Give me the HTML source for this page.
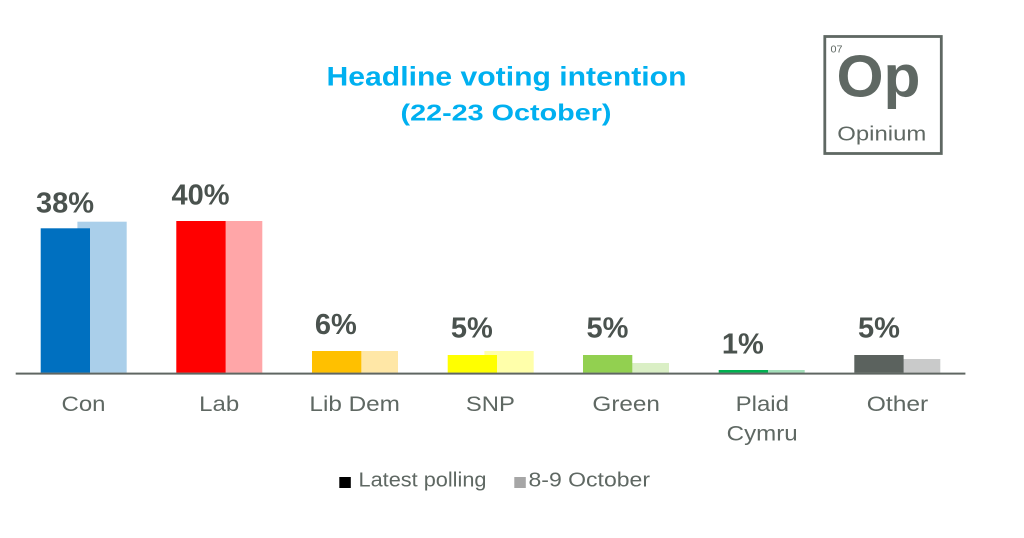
<!DOCTYPE html>
<html><head><meta charset="utf-8"><style>
html,body{margin:0;padding:0;background:#fff;}
svg{display:block;}
</style></head><body>
<svg width="1024" height="538" viewBox="0 0 1024 538" xmlns="http://www.w3.org/2000/svg">
<rect width="1024" height="538" fill="#fff"/>
<!-- title -->
<g font-family="'Liberation Sans', sans-serif" font-weight="bold" fill="#00B0F0" text-anchor="middle">
<text x="506.5" y="85.5" font-size="26.5" textLength="360" lengthAdjust="spacingAndGlyphs">Headline voting intention</text>
<text x="506" y="120.5" font-size="23.5" textLength="211" lengthAdjust="spacingAndGlyphs">(22-23 October)</text>
</g>
<!-- logo -->
<rect x="824.8" y="36.5" width="116.5" height="117" fill="none" stroke="#5f6863" stroke-width="2.8"/>
<text x="830.5" y="52.3" font-family="'Liberation Sans', sans-serif" font-size="10" fill="#5f6863" textLength="12" lengthAdjust="spacingAndGlyphs">07</text>
<text x="836.5" y="96.7" font-family="'Liberation Sans', sans-serif" font-weight="bold" font-size="59" fill="#5f6863" textLength="84" lengthAdjust="spacingAndGlyphs">Op</text>
<text x="837.3" y="140.7" font-family="'Liberation Sans', sans-serif" font-size="20" fill="#5f6863" textLength="89" lengthAdjust="spacingAndGlyphs">Opinium</text>
<!-- bars: light (behind) then dark -->
<g>
<rect x="77.4" y="221.7" width="49.3" height="151" fill="#AACFEA"/>
<rect x="40.7" y="228.3" width="49.3" height="144.4" fill="#0070C0"/>
<rect x="213" y="221" width="49.3" height="151.7" fill="#FFA6A8"/>
<rect x="176.3" y="221" width="49.3" height="151.7" fill="#FF0000"/>
<rect x="348.7" y="351" width="49.3" height="21.7" fill="#FFE7A6"/>
<rect x="312" y="351" width="49.3" height="21.7" fill="#FFC000"/>
<rect x="484.4" y="351" width="49.3" height="21.7" fill="#FFFFAA"/>
<rect x="447.7" y="355" width="49.3" height="17.7" fill="#FFFF00"/>
<rect x="619.7" y="363" width="49.3" height="9.7" fill="#DAEFC5"/>
<rect x="583" y="355" width="49.3" height="17.7" fill="#92D050"/>
<rect x="755.4" y="370" width="49.3" height="2.7" fill="#A3DFBA"/>
<rect x="718.7" y="370" width="49.3" height="2.7" fill="#00B050"/>
<rect x="891" y="359" width="49.3" height="13.7" fill="#C9CACA"/>
<rect x="854.3" y="355" width="49.3" height="17.7" fill="#5B625E"/>
</g>
<!-- axis -->
<rect x="15.7" y="372.6" width="949.7" height="2" fill="#5f6662"/>
<!-- value labels -->
<g font-family="'Liberation Sans', sans-serif" font-weight="bold" font-size="29" fill="#4a524e" text-anchor="middle">
<text x="65" y="212.7">38%</text>
<text x="200.5" y="204.3">40%</text>
<text x="335.8" y="334">6%</text>
<text x="471.8" y="337.3">5%</text>
<text x="607.5" y="337.3">5%</text>
<text x="742.8" y="353.3">1%</text>
<text x="879" y="337.3">5%</text>
</g>
<!-- category labels -->
<g font-family="'Liberation Sans', sans-serif" font-size="21.5" fill="#5f6863" text-anchor="middle">
<text x="83.5" y="411" textLength="44" lengthAdjust="spacingAndGlyphs">Con</text>
<text x="219.2" y="411" textLength="40" lengthAdjust="spacingAndGlyphs">Lab</text>
<text x="354.7" y="411" textLength="90.5" lengthAdjust="spacingAndGlyphs">Lib Dem</text>
<text x="490.4" y="411" textLength="49" lengthAdjust="spacingAndGlyphs">SNP</text>
<text x="626.2" y="411" textLength="67.5" lengthAdjust="spacingAndGlyphs">Green</text>
<text x="762.3" y="411" textLength="53.3" lengthAdjust="spacingAndGlyphs">Plaid</text>
<text x="762.2" y="440.5" textLength="71" lengthAdjust="spacingAndGlyphs">Cymru</text>
<text x="897.5" y="411" textLength="61.5" lengthAdjust="spacingAndGlyphs">Other</text>
</g>
<!-- legend -->
<rect x="339.3" y="477" width="11.5" height="11" fill="#000"/>
<text x="358.5" y="486.5" font-family="'Liberation Sans', sans-serif" font-size="20" fill="#5f6863" textLength="128" lengthAdjust="spacingAndGlyphs">Latest polling</text>
<rect x="514.3" y="477" width="11.5" height="11" fill="#A6A6A6"/>
<text x="528.5" y="486.5" font-family="'Liberation Sans', sans-serif" font-size="20" fill="#5f6863" textLength="121.5" lengthAdjust="spacingAndGlyphs">8-9 October</text>
</svg>
</body></html>
